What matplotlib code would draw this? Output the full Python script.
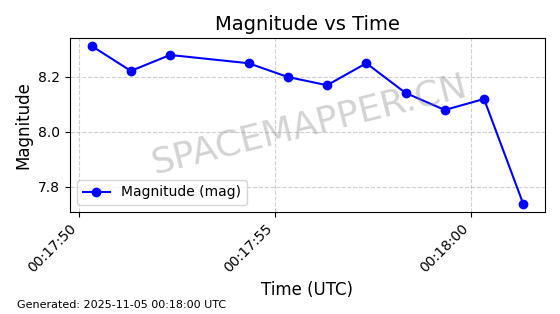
import matplotlib
matplotlib.use("Agg")
import matplotlib.pyplot as plt
import matplotlib.dates as mdates
from datetime import datetime, timedelta

base = datetime(2025, 11, 5, 0, 17, 50)
offsets_s = [0.33, 1.33, 2.33, 4.33, 5.33, 6.33, 7.33, 8.33, 9.33, 10.33, 11.33]
magnitudes = [8.313, 8.222, 8.28, 8.25, 8.20, 8.17, 8.25, 8.142, 8.08, 8.12, 7.738]
times = [base + timedelta(seconds=s) for s in offsets_s]

fig = plt.figure(figsize=(5.6, 3.14), dpi=100)
ax = fig.add_axes([0.125, 0.325, 0.848, 0.554])
ax.plot(times, magnitudes, color="blue", marker="o", markersize=6, linewidth=1.5,
        label="Magnitude (mag)")
ax.set_title("Magnitude vs Time", fontsize=14)
ax.set_xlabel("Time (UTC)", fontsize=12)
ax.set_ylabel("Magnitude", fontsize=12)
ax.xaxis.set_major_locator(mdates.SecondLocator(bysecond=range(0, 60, 5)))
ax.xaxis.set_major_formatter(mdates.DateFormatter("%H:%M:%S"))
plt.setp(ax.get_xticklabels(), rotation=45, ha="right")
ax.set_yticks([7.8, 8.0, 8.2])
ax.grid(True, linestyle="--", alpha=0.6)
ax.legend(loc="lower left")
ax.text(0.505, 0.5, "SPACEMAPPER.CN", transform=ax.transAxes, fontsize=26,
        color="gray", alpha=0.35, rotation=14, ha="center", va="center")
fig.text(0.03, 0.02, "Generated: 2025-11-05 00:18:00 UTC", fontsize=8)
fig.savefig("out.png", dpi=100)
